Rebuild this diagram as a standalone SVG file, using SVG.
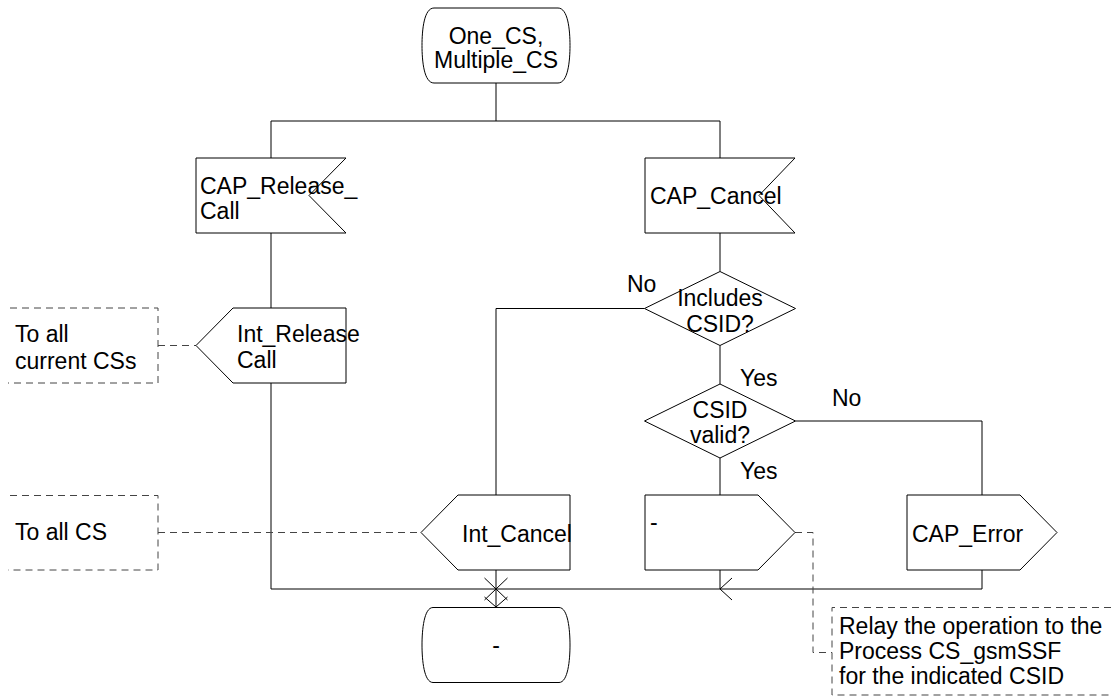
<svg xmlns="http://www.w3.org/2000/svg" width="1111" height="696" viewBox="0 0 1111 696">
<style>
  .s{fill:#fff;stroke:#000;stroke-width:1}
  .l{fill:none;stroke:#000;stroke-width:1}
  .d{fill:none;stroke:#444;stroke-width:1;stroke-dasharray:7 5}
  text{font-family:"Liberation Sans",Arial,sans-serif;font-size:23px;fill:#000}
  .c{text-anchor:middle}
</style>
<rect width="1111" height="696" fill="#fff"/>
<g id="connectors">
  <path class="l" d="M496,83V121M271,121H720M271,121V158M271,233V308M271,383V589M271,589H982M720,121V158M720,233V271.5M720,345.5V384M720,458V495M720,570V589M795.5,421H982V495M982,570V589M644.5,308.5H496V495M496,570V607"/>
  <path class="l" d="M484.5,578 L507.5,600 M507.5,578 L484.5,600 M484.5,597 L496,607 L507.5,597 M732,578 L720,589 L732,600"/>
  <path class="d" d="M158,345.5H196M158,532.5H421M795,532.5H813V652.5H832"/>
</g>
<g id="start">
  <path class="s" d="M434,8H558C568,8 570,30 570,45.5C570,61 568,83 558,83H434C424,83 422,61 422,45.5C422,30 424,8 434,8Z"/>
  <text class="c" x="496" y="44">One_CS,</text>
  <text class="c" x="496" y="68">Multiple_CS</text>
</g>
<g id="cap_release_call">
  <polygon class="s" points="196,158 346,158 309,195.5 346,233 196,233"/>
  <text x="200" y="194">CAP_Release_</text>
  <text x="200" y="219">Call</text>
</g>
<g id="cap_cancel">
  <polygon class="s" points="645,158 795,158 759,195.5 795,233 645,233"/>
  <text x="650" y="204">CAP_Cancel</text>
</g>
<g id="int_release_call">
  <polygon class="s" points="196,345.5 233,308 346,308 346,383 233,383"/>
  <text x="237" y="342">Int_Release</text>
  <text x="237" y="368">Call</text>
</g>
<g id="note_current_css">
  <path class="d" d="M10,308H158V383H8"/>
  <text x="15" y="342">To all</text>
  <text x="15" y="369">current CSs</text>
</g>
<g id="includes_csid">
  <polygon class="s" points="720,271.5 795.5,308.5 720,345.5 644.5,308.5"/>
  <text class="c" x="720" y="306">Includes</text>
  <text class="c" x="720" y="332">CSID?</text>
  <text x="627" y="292">No</text>
  <text x="740" y="386">Yes</text>
</g>
<g id="csid_valid">
  <polygon class="s" points="720,384 795.5,421 720,458 644.5,421"/>
  <text class="c" x="720" y="418">CSID</text>
  <text class="c" x="720" y="443">valid?</text>
  <text x="832" y="406">No</text>
  <text x="740" y="479">Yes</text>
</g>
<g id="note_all_cs">
  <path class="d" d="M10,495.5H158V570H8"/>
  <text x="15" y="540">To all CS</text>
</g>
<g id="int_cancel">
  <polygon class="s" points="421,532.5 458,495 570,495 570,570 458,570"/>
  <text x="462" y="542">Int_Cancel</text>
</g>
<g id="relay_output">
  <polygon class="s" points="645,495 758,495 795,532.5 758,570 645,570"/>
  <text x="650" y="530">-</text>
</g>
<g id="cap_error">
  <polygon class="s" points="907,495 1020,495 1057,532.5 1020,570 907,570"/>
  <text x="912" y="542">CAP_Error</text>
</g>
<g id="note_relay">
  <path class="d" d="M1111,607.5H832V695H1111"/>
  <text x="839" y="634">Relay the operation to the</text>
  <text x="839" y="659">Process CS_gsmSSF</text>
  <text x="839" y="684">for the indicated CSID</text>
</g>
<g id="end">
  <path class="s" d="M433,607.5H559C568,607.5 570,630 570,645C570,660 568,682.5 559,682.5H433C424,682.5 422,660 422,645C422,630 424,607.5 433,607.5Z"/>
  <text class="c" x="496" y="653">-</text>
</g>
</svg>
